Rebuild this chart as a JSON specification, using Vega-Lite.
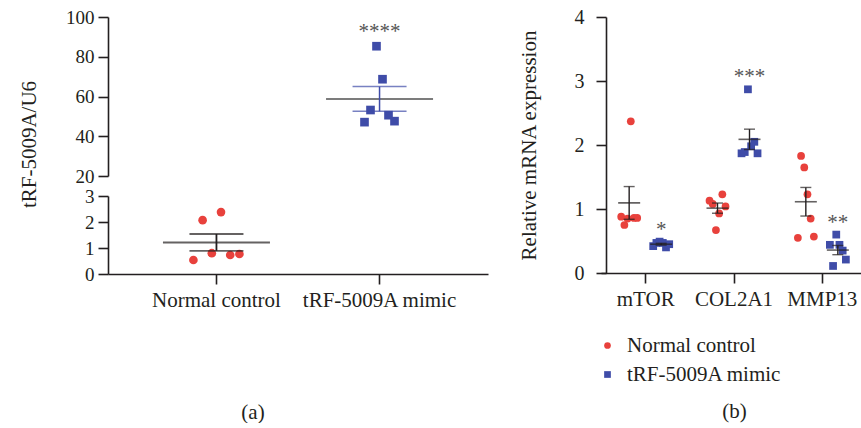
{
  "$schema": "https://vega.github.io/schema/vega-lite/v6.json",
  "background": "white",
  "padding": {"left": 17, "top": 7, "right": 0, "bottom": 0},
  "config": {
    "font": "Liberation Serif",
    "view": {"stroke": null},
    "axis": {
      "labelFont": "Liberation Serif", "titleFont": "Liberation Serif",
      "labelFontSize": 21, "titleFontSize": 21, "titleFontWeight": "normal",
      "labelColor": "#231f20", "titleColor": "#231f20",
      "domainColor": "#231f20", "tickColor": "#231f20",
      "domainWidth": 1.6, "tickWidth": 1.6, "tickSize": 10, "grid": false
    },
    "title": {"font": "Liberation Serif", "fontSize": 21, "fontWeight": "normal", "color": "#231f20"},
    "legend": {"labelFont": "Liberation Serif", "labelFontSize": 21, "labelColor": "#231f20"}
  },
  "datasets": {
    "a": [
      {"group": "Normal control", "rep": 1, "value": 0.54},
      {"group": "Normal control", "rep": 2, "value": 2.07},
      {"group": "Normal control", "rep": 3, "value": 0.80},
      {"group": "Normal control", "rep": 4, "value": 2.38},
      {"group": "Normal control", "rep": 5, "value": 0.73},
      {"group": "Normal control", "rep": 6, "value": 0.77},
      {"group": "tRF-5009A mimic", "rep": 1, "value": 47.1, "sig": "****"},
      {"group": "tRF-5009A mimic", "rep": 2, "value": 53.2, "sig": "****"},
      {"group": "tRF-5009A mimic", "rep": 3, "value": 85.3, "sig": "****"},
      {"group": "tRF-5009A mimic", "rep": 4, "value": 68.7, "sig": "****"},
      {"group": "tRF-5009A mimic", "rep": 5, "value": 50.6, "sig": "****"},
      {"group": "tRF-5009A mimic", "rep": 6, "value": 47.6, "sig": "****"}
    ],
    "b": [
      {"gene": "mTOR", "group": "Normal control", "rep": 1, "value": 0.88},
      {"gene": "mTOR", "group": "Normal control", "rep": 2, "value": 0.75},
      {"gene": "mTOR", "group": "Normal control", "rep": 3, "value": 0.85},
      {"gene": "mTOR", "group": "Normal control", "rep": 4, "value": 2.37},
      {"gene": "mTOR", "group": "Normal control", "rep": 5, "value": 0.86},
      {"gene": "mTOR", "group": "Normal control", "rep": 6, "value": 0.86},
      {"gene": "mTOR", "group": "tRF-5009A mimic", "rep": 1, "value": 0.42, "sig": "*"},
      {"gene": "mTOR", "group": "tRF-5009A mimic", "rep": 2, "value": 0.47, "sig": "*"},
      {"gene": "mTOR", "group": "tRF-5009A mimic", "rep": 3, "value": 0.49, "sig": "*"},
      {"gene": "mTOR", "group": "tRF-5009A mimic", "rep": 4, "value": 0.47, "sig": "*"},
      {"gene": "mTOR", "group": "tRF-5009A mimic", "rep": 5, "value": 0.40, "sig": "*"},
      {"gene": "mTOR", "group": "tRF-5009A mimic", "rep": 6, "value": 0.45, "sig": "*"},
      {"gene": "COL2A1", "group": "Normal control", "rep": 1, "value": 1.13},
      {"gene": "COL2A1", "group": "Normal control", "rep": 2, "value": 1.08},
      {"gene": "COL2A1", "group": "Normal control", "rep": 3, "value": 0.67},
      {"gene": "COL2A1", "group": "Normal control", "rep": 4, "value": 0.93},
      {"gene": "COL2A1", "group": "Normal control", "rep": 5, "value": 1.23},
      {"gene": "COL2A1", "group": "Normal control", "rep": 6, "value": 1.04},
      {"gene": "COL2A1", "group": "tRF-5009A mimic", "rep": 1, "value": 1.87, "sig": "***"},
      {"gene": "COL2A1", "group": "tRF-5009A mimic", "rep": 2, "value": 1.89, "sig": "***"},
      {"gene": "COL2A1", "group": "tRF-5009A mimic", "rep": 3, "value": 2.87, "sig": "***"},
      {"gene": "COL2A1", "group": "tRF-5009A mimic", "rep": 4, "value": 1.98, "sig": "***"},
      {"gene": "COL2A1", "group": "tRF-5009A mimic", "rep": 5, "value": 2.05, "sig": "***"},
      {"gene": "COL2A1", "group": "tRF-5009A mimic", "rep": 6, "value": 1.87, "sig": "***"},
      {"gene": "MMP13", "group": "Normal control", "rep": 1, "value": 0.55},
      {"gene": "MMP13", "group": "Normal control", "rep": 2, "value": 1.83},
      {"gene": "MMP13", "group": "Normal control", "rep": 3, "value": 1.65},
      {"gene": "MMP13", "group": "Normal control", "rep": 4, "value": 1.23},
      {"gene": "MMP13", "group": "Normal control", "rep": 5, "value": 0.85},
      {"gene": "MMP13", "group": "Normal control", "rep": 6, "value": 0.57},
      {"gene": "MMP13", "group": "tRF-5009A mimic", "rep": 1, "value": 0.44, "sig": "**"},
      {"gene": "MMP13", "group": "tRF-5009A mimic", "rep": 2, "value": 0.11, "sig": "**"},
      {"gene": "MMP13", "group": "tRF-5009A mimic", "rep": 3, "value": 0.60, "sig": "**"},
      {"gene": "MMP13", "group": "tRF-5009A mimic", "rep": 4, "value": 0.44, "sig": "**"},
      {"gene": "MMP13", "group": "tRF-5009A mimic", "rep": 5, "value": 0.35, "sig": "**"},
      {"gene": "MMP13", "group": "tRF-5009A mimic", "rep": 6, "value": 0.21, "sig": "**"}
    ]
  },
  "hconcat": [
    {
      "data": {"name": "a"},
      "title": {"text": "(a)", "orient": "bottom", "offset": 92, "anchor": "middle"},
      "spacing": 20,
      "bounds": "flush",
      "resolve": {"scale": {"xOffset": "independent"}},
      "vconcat": [
        {
          "width": 380, "height": 159,
          "transform": [{"filter": "datum.group === 'tRF-5009A mimic'"}],
          "encoding": {
            "x": {"field": "group", "type": "nominal", "scale": {"domain": ["Normal control", "tRF-5009A mimic"], "paddingInner": 0, "paddingOuter": 0.165}, "axis": null},
            "y": {"field": "value", "type": "quantitative", "scale": {"domain": [20, 100], "nice": false, "zero": false},
                  "axis": {"values": [20, 40, 60, 80, 100], "title": "tRF-5009A/U6", "titleX": -69, "titleY": 127, "titleBaseline": "bottom", "titleAngle": -90, "labelPadding": 4, "labelFontSize": 19}}
          },
          "layer": [
            {"mark": {"type": "point", "shape": "square", "filled": true, "size": 75, "color": "#3f4ca8", "opacity": 1},
             "encoding": {"xOffset": {"field": "rep", "type": "ordinal", "scale": {"type": "point", "range": [66.5, 96.5], "padding": 0}}}},
            {"transform": [{"aggregate": [{"op": "mean", "field": "value", "as": "value"}], "groupby": ["group"]}],
             "mark": {"type": "tick", "size": 107, "thickness": 2, "color": "#444444"}},
            {"mark": {"type": "errorbar", "extent": "stderr", "ticks": {"size": 54}, "thickness": 1.5, "color": "#3f4ca8"}},
            {"transform": [{"aggregate": [{"op": "max", "field": "value", "as": "value"}], "groupby": ["group", "sig"]}],
             "mark": {"type": "text", "dy": -8, "fontSize": 21, "color": "#555555", "baseline": "alphabetic"},
             "encoding": {"text": {"field": "sig"}}}
          ]
        },
        {
          "width": 380, "height": 78,
          "transform": [{"filter": "datum.group === 'Normal control'"}],
          "encoding": {
            "x": {"field": "group", "type": "nominal", "scale": {"domain": ["Normal control", "tRF-5009A mimic"], "paddingInner": 0, "paddingOuter": 0.165},
                  "axis": {"title": null, "labelAngle": 0, "labelPadding": 5}},
            "y": {"field": "value", "type": "quantitative", "scale": {"domain": [0, 3], "nice": false},
                  "axis": {"values": [0, 1, 2, 3], "title": null, "labelPadding": 4, "labelFontSize": 19}}
          },
          "layer": [
            {"mark": {"type": "point", "shape": "circle", "filled": true, "size": 75, "color": "#e8413c", "opacity": 1},
             "encoding": {"xOffset": {"field": "rep", "type": "ordinal", "scale": {"type": "point", "range": [58.5, 104.5], "padding": 0}}}},
            {"transform": [{"aggregate": [{"op": "mean", "field": "value", "as": "value"}], "groupby": ["group"]}],
             "mark": {"type": "tick", "size": 107, "thickness": 2, "color": "#231f20"}},
            {"mark": {"type": "errorbar", "extent": "stderr", "ticks": {"size": 54}, "thickness": 1.8, "color": "#231f20"}}
          ]
        }
      ]
    },
    {
      "data": {"name": "b"},
      "width": 257, "height": 256,
      "title": {"text": "(b)", "orient": "bottom", "offset": 16, "anchor": "middle"},
      "encoding": {
        "y": {"field": "value", "type": "quantitative", "scale": {"domain": [0, 4], "nice": false},
              "axis": {"values": [0, 1, 2, 3, 4], "title": "Relative mRNA expression", "labelPadding": 12, "titlePadding": 35, "labelFontSize": 20}}
      },
      "layer": [
        {"mark": {"type": "point", "opacity": 0},
         "encoding": {"x": {"field": "gene", "type": "nominal", "sort": ["mTOR", "COL2A1", "MMP13"],
                            "scale": {"domain": ["mTOR", "COL2A1", "MMP13"], "range": [-5, 260], "paddingInner": 0, "paddingOuter": 0},
                            "axis": {"title": null, "labelAngle": 0, "labelPadding": 5}}}},
        {
          "transform": [{"filter": "datum.group === 'Normal control'"}],
          "encoding": {"x": {"field": "gene", "type": "nominal", "scale": {"domain": ["mTOR", "COL2A1", "MMP13"], "range": [-21, 244], "paddingInner": 0, "paddingOuter": 0}, "axis": null}},
          "layer": [
            {"mark": {"type": "point", "filled": true, "size": 60, "opacity": 1},
             "encoding": {
               "xOffset": {"field": "rep", "type": "ordinal", "scale": {"type": "point", "range": [36.2, 52.2], "padding": 0}},
               "color": {"field": "group", "type": "nominal", "scale": {"domain": ["Normal control", "tRF-5009A mimic"], "range": ["#e8413c", "#3f4ca8"]},
                         "legend": {"title": null, "orient": "none", "legendX": -9, "legendY": 318, "symbolSize": 45, "rowPadding": 7, "labelOffset": 9, "symbolStrokeWidth": 0}},
               "shape": {"field": "group", "type": "nominal", "scale": {"domain": ["Normal control", "tRF-5009A mimic"], "range": ["circle", "square"]},
                         "legend": {"title": null, "orient": "none", "legendX": -9, "legendY": 318, "symbolSize": 45, "rowPadding": 7, "labelOffset": 9, "symbolStrokeWidth": 0}}
             }},
            {"transform": [{"aggregate": [{"op": "mean", "field": "value", "as": "value"}], "groupby": ["gene"]}],
             "mark": {"type": "tick", "size": 22, "thickness": 1.6, "color": "#231f20"}},
            {"mark": {"type": "errorbar", "extent": "stderr", "ticks": {"size": 11}, "thickness": 1.4, "color": "#231f20"}}
          ]
        },
        {
          "transform": [{"filter": "datum.group === 'tRF-5009A mimic'"}],
          "encoding": {"x": {"field": "gene", "type": "nominal", "scale": {"domain": ["mTOR", "COL2A1", "MMP13"], "range": [11, 276], "paddingInner": 0, "paddingOuter": 0}, "axis": null}},
          "layer": [
            {"mark": {"type": "point", "filled": true, "size": 60, "opacity": 1},
             "encoding": {
               "xOffset": {"field": "rep", "type": "ordinal", "scale": {"type": "point", "range": [36.2, 52.2], "padding": 0}},
               "color": {"field": "group", "type": "nominal", "scale": {"domain": ["Normal control", "tRF-5009A mimic"], "range": ["#e8413c", "#3f4ca8"]},
                         "legend": {"title": null, "orient": "none", "legendX": -9, "legendY": 318, "symbolSize": 45, "rowPadding": 7, "labelOffset": 9, "symbolStrokeWidth": 0}},
               "shape": {"field": "group", "type": "nominal", "scale": {"domain": ["Normal control", "tRF-5009A mimic"], "range": ["circle", "square"]},
                         "legend": {"title": null, "orient": "none", "legendX": -9, "legendY": 318, "symbolSize": 45, "rowPadding": 7, "labelOffset": 9, "symbolStrokeWidth": 0}}
             }},
            {"transform": [{"aggregate": [{"op": "mean", "field": "value", "as": "value"}], "groupby": ["gene"]}],
             "mark": {"type": "tick", "size": 22, "thickness": 1.6, "color": "#231f20"}},
            {"mark": {"type": "errorbar", "extent": "stderr", "ticks": {"size": 11}, "thickness": 1.4, "color": "#231f20"}},
            {"transform": [{"aggregate": [{"op": "max", "field": "value", "as": "value"}], "groupby": ["gene", "sig"]}],
             "mark": {"type": "text", "dy": -6, "fontSize": 21, "color": "#555555", "baseline": "alphabetic"},
             "encoding": {"text": {"field": "sig"}}}
          ]
        }
      ],
      "resolve": {"scale": {"x": "independent"}, "axis": {"x": "independent"}}
    }
  ],
  "spacing": 30,
  "resolve": {
    "scale": {"xOffset": "independent", "color": "independent", "shape": "independent"},
    "legend": {"color": "independent", "shape": "independent"}
  }
}
